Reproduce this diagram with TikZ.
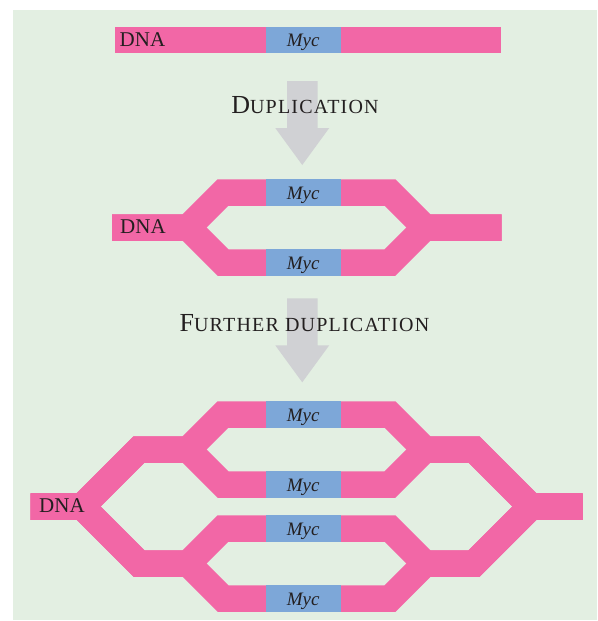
\documentclass[tikz,border=0pt]{standalone}
\usepackage{fontspec}
\setmainfont{Liberation Serif}
\usepackage{xcolor}
\usetikzlibrary{positioning}

\definecolor{rosaADN}{RGB}{242,103,166}
\definecolor{azulMyc}{RGB}{125,167,216}
\definecolor{fondo}{RGB}{227,239,226}
\definecolor{grisFlecha}{RGB}{208,209,212}
\definecolor{tinta}{RGB}{35,31,32}

\newcommand{\capgrande}[1]{{\fontsize{26}{30}\selectfont #1}}

\begin{document}
\begin{tikzpicture}[
	x=1pt, y=-1pt,
	every node/.style={text=tinta},
	hebra/.style={draw=rosaADN, line width=26.5pt, line join=miter},
	myc/.style={fill=azulMyc, minimum width=75.5pt, minimum height=26.5pt, inner sep=0pt,
		text height=13pt, text depth=0pt, font=\fontsize{19}{22}\selectfont\itshape},
	adn/.style={anchor=base west, inner sep=0pt, font=\fontsize{21}{24}\selectfont},
	titulo/.style={anchor=base, inner sep=0pt, font=\fontsize{20}{24}\selectfont\addfontfeature{LetterSpace=6}},
	flecha/.style={fill=grisFlecha}
	]
	
	\useasboundingbox (0,0) rectangle (597,621);
	\fill[fondo] (13,9.5) rectangle (597,619.5);
	
	% Flechas grises
	\foreach \y in {81,298.3}
	\fill[flecha] (287,\y) -- ++(30.5,0) -- ++(0,47) -- ++(11.75,0) -- ++(-27,37)
	-- ++(-27,-37) -- ++(11.75,0) -- cycle;
	
	\node[titulo] (dup) at (305,113.3) {\capgrande{D}UPLICATION};
	\node[titulo] (masdup) at (304.5,331) {\capgrande{F}URTHER DUPLICATION};
	
	% ADN original
	\draw[hebra] (115,40) -- (500.5,40);
	\node[myc] (myc1) at (303.25,40) {Myc};
	\node[adn] (adn1) at (119.5,46.3) {DNA};
	
	% Primera duplicacion
	\draw[hebra] (112,227.5) -- (188,227.5) -- (223,192.5) -- (390,192.5) -- (425,227.5) -- (501.5,227.5);
	\draw[hebra] (112,227.5) -- (188,227.5) -- (223,262.5) -- (390,262.5) -- (425,227.5) -- (501.5,227.5);
	\node[myc] (myc2a) at (303.25,192.5) {Myc};
	\node[myc] (myc2b) at (303.25,262.5) {Myc};
	\node[adn] (adn2) at (120,233.8) {DNA};
	
	% Duplicacion adicional
	\draw[hebra] (30.5,506.5) -- (82,506.5) -- (139,449.5) -- (188,449.5) -- (223,414.5) -- (390,414.5)
	-- (425,449.5) -- (474,449.5) -- (531,506.5) -- (582.5,506.5);
	\draw[hebra] (30.5,506.5) -- (82,506.5) -- (139,449.5) -- (188,449.5) -- (223,484.5) -- (390,484.5)
	-- (425,449.5) -- (474,449.5) -- (531,506.5) -- (582.5,506.5);
	\draw[hebra] (30.5,506.5) -- (82,506.5) -- (139,563.5) -- (188,563.5) -- (223,528.5) -- (390,528.5)
	-- (425,563.5) -- (474,563.5) -- (531,506.5) -- (582.5,506.5);
	\draw[hebra] (30.5,506.5) -- (82,506.5) -- (139,563.5) -- (188,563.5) -- (223,598.5) -- (390,598.5)
	-- (425,563.5) -- (474,563.5) -- (531,506.5) -- (582.5,506.5);
	\node[myc] (myc3a) at (303.25,414.5) {Myc};
	\node[myc] (myc3b) at (303.25,484.5) {Myc};
	\node[myc] (myc3c) at (303.25,528.5) {Myc};
	\node[myc] (myc3d) at (303.25,598.5) {Myc};
	\node[adn] (adn3) at (39,512.8) {DNA};
	
\end{tikzpicture}
\end{document}
